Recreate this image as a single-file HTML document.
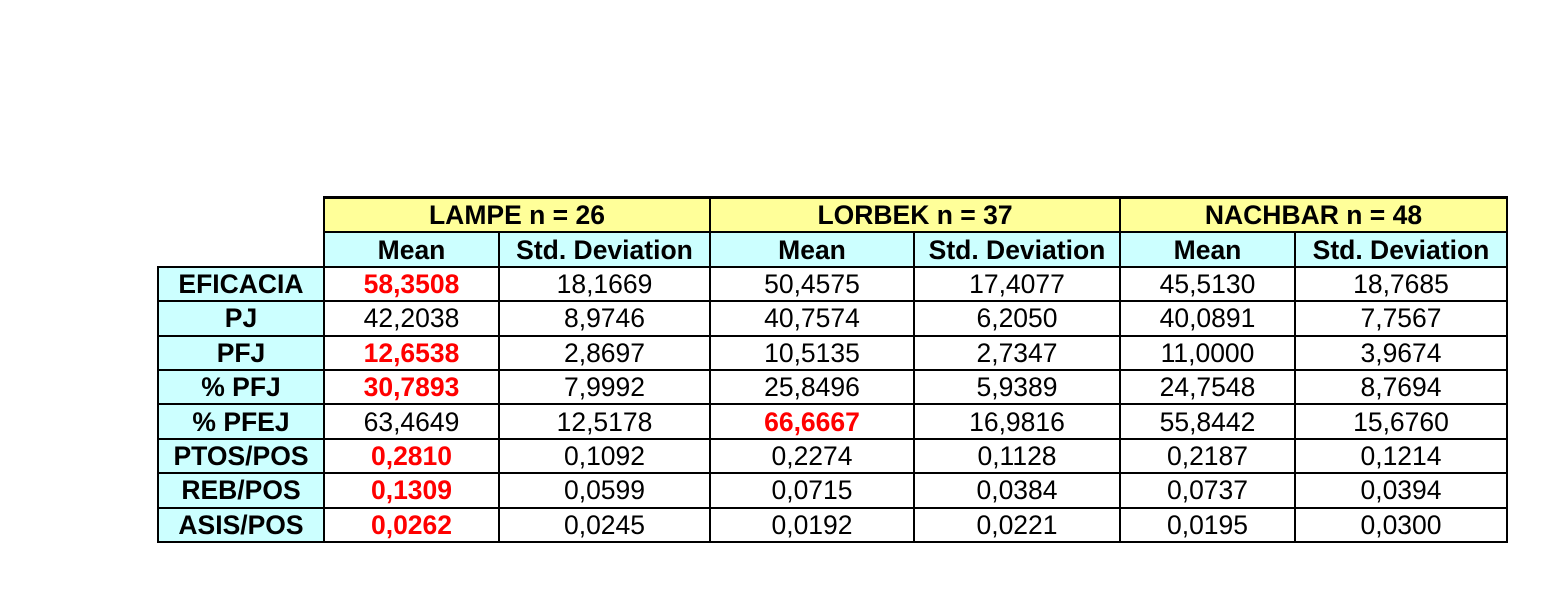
<!DOCTYPE html>
<html><head><style>
body{margin:0;width:1555px;height:597px;background:#fff;position:relative;overflow:hidden;font-family:"Liberation Sans",sans-serif;}
table{position:absolute;left:157px;top:196px;border-collapse:collapse;table-layout:fixed;}
td{border:2px solid #000;height:32.4px;padding:0;text-align:center;font-size:26.5px;line-height:26px;color:#000;overflow:hidden;white-space:nowrap;}
td.e{border:none;}
.y{background:#ffff99;font-weight:bold;}
.c{background:#ccffff;font-weight:bold;}
.r{color:#ff0000;font-weight:bold;}
tr.h1 td.y{border-top:3px solid #000;}
</style></head><body>
<table>
<colgroup><col style="width:166px"><col style="width:175px"><col style="width:211px"><col style="width:204px"><col style="width:206px"><col style="width:175px"><col style="width:212px"></colgroup>
<tr class="h1"><td class="e"></td><td class="y" colspan="2">LAMPE n = 26</td><td class="y" colspan="2">LORBEK n = 37</td><td class="y" colspan="2">NACHBAR n = 48</td></tr>
<tr><td class="e"></td><td class="c">Mean</td><td class="c">Std. Deviation</td><td class="c">Mean</td><td class="c">Std. Deviation</td><td class="c">Mean</td><td class="c">Std. Deviation</td></tr>
<tr><td class="c">EFICACIA</td><td class="r">58,3508</td><td>18,1669</td><td>50,4575</td><td>17,4077</td><td>45,5130</td><td>18,7685</td></tr>
<tr><td class="c">PJ</td><td>42,2038</td><td>8,9746</td><td>40,7574</td><td>6,2050</td><td>40,0891</td><td>7,7567</td></tr>
<tr><td class="c">PFJ</td><td class="r">12,6538</td><td>2,8697</td><td>10,5135</td><td>2,7347</td><td>11,0000</td><td>3,9674</td></tr>
<tr><td class="c">% PFJ</td><td class="r">30,7893</td><td>7,9992</td><td>25,8496</td><td>5,9389</td><td>24,7548</td><td>8,7694</td></tr>
<tr><td class="c">% PFEJ</td><td>63,4649</td><td>12,5178</td><td class="r">66,6667</td><td>16,9816</td><td>55,8442</td><td>15,6760</td></tr>
<tr><td class="c">PTOS/POS</td><td class="r">0,2810</td><td>0,1092</td><td>0,2274</td><td>0,1128</td><td>0,2187</td><td>0,1214</td></tr>
<tr><td class="c">REB/POS</td><td class="r">0,1309</td><td>0,0599</td><td>0,0715</td><td>0,0384</td><td>0,0737</td><td>0,0394</td></tr>
<tr><td class="c">ASIS/POS</td><td class="r">0,0262</td><td>0,0245</td><td>0,0192</td><td>0,0221</td><td>0,0195</td><td>0,0300</td></tr>
</table>
</body></html>
